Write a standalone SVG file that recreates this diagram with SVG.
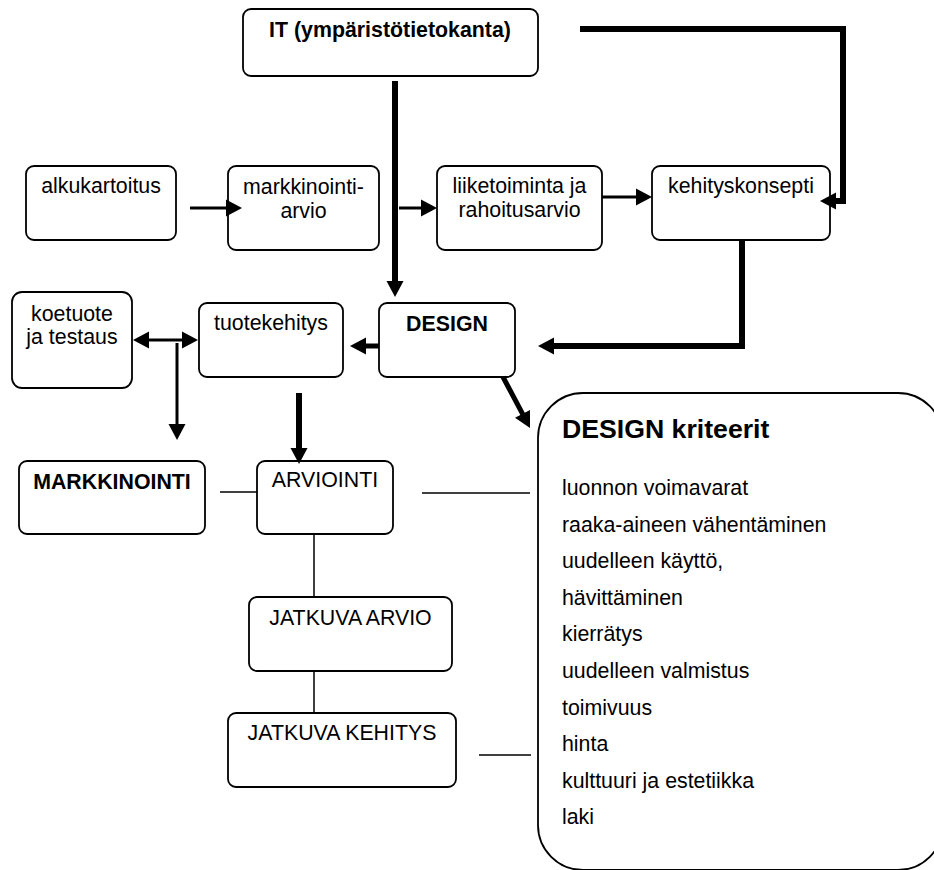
<svg xmlns="http://www.w3.org/2000/svg" width="934" height="870" viewBox="0 0 934 870">
<style>
.box{fill:#fff;stroke:#000;stroke-width:1.8}
.t{font-family:"Liberation Sans",Arial,sans-serif;font-size:21.33px;fill:#000;text-anchor:middle}
.b{font-weight:bold}
.l{text-anchor:start}
.thick{fill:none;stroke:#000;stroke-width:6;stroke-linejoin:miter}
.med{fill:none;stroke:#000;stroke-width:5}
.thin{fill:none;stroke:#000;stroke-width:3}
.line{fill:none;stroke:#000;stroke-width:1.5}
.head{fill:#000;stroke:none}
</style>
<defs>
<path id="ah" class="head" d="M0,0 L-16,-8.5 L-16,8.5 z"/>
</defs>
<rect width="934" height="870" fill="#fff"/>
<g id="it">
<rect class="box" x="243" y="9" width="295" height="67" rx="8"/>
<text class="t b" x="390" y="37">IT (ympäristötietokanta)</text>
</g>
<g id="alkukartoitus">
<rect class="box" x="26" y="166" width="150" height="74" rx="8"/>
<text class="t" x="101" y="193">alkukartoitus</text>
</g>
<g id="markkinointiarvio">
<rect class="box" x="228" y="166" width="151" height="84" rx="8"/>
<text class="t" x="303.5" y="194">markkinointi-</text>
<text class="t" x="303.5" y="218">arvio</text>
</g>
<g id="liiketoiminta">
<rect class="box" x="437" y="166" width="165" height="84" rx="8"/>
<text class="t" x="519.5" y="193">liiketoiminta ja</text>
<text class="t" x="519.5" y="217">rahoitusarvio</text>
</g>
<g id="kehityskonsepti">
<rect class="box" x="652" y="166" width="178" height="74" rx="8"/>
<text class="t" x="741" y="193">kehityskonsepti</text>
</g>
<g id="design">
<rect class="box" x="379" y="303" width="136" height="74" rx="8"/>
<text class="t b" x="447" y="331">DESIGN</text>
</g>
<g id="koetuote">
<rect class="box" x="12" y="292" width="120" height="96" rx="10"/>
<text class="t" x="72" y="321">koetuote</text>
<text class="t" x="72" y="344">ja testaus</text>
</g>
<g id="tuotekehitys">
<rect class="box" x="199" y="303" width="144" height="74" rx="8"/>
<text class="t" x="271" y="330">tuotekehitys</text>
</g>
<g id="markkinointi">
<rect class="box" x="19" y="461" width="186" height="73" rx="8"/>
<text class="t b" x="112" y="489">MARKKINOINTI</text>
</g>
<g id="arviointi">
<rect class="box" x="257" y="461" width="136" height="73" rx="8"/>
<text class="t" x="325" y="487">ARVIOINTI</text>
</g>
<g id="jatkuvaarvio">
<rect class="box" x="249" y="597" width="203" height="74" rx="8"/>
<text class="t" x="350.5" y="625">JATKUVA ARVIO</text>
</g>
<g id="jatkuvakehitys">
<rect class="box" x="228" y="713" width="228" height="74" rx="8"/>
<text class="t" x="342" y="740">JATKUVA KEHITYS</text>
</g>
<g id="kriteerit">
<rect class="box" x="538" y="393" width="405" height="477" rx="45"/>
<text class="t b l" x="562" y="438" style="font-size:26.67px">DESIGN kriteerit</text>
<text class="t l" x="562" y="495">luonnon voimavarat</text>
<text class="t l" x="562" y="531.6">raaka-aineen vähentäminen</text>
<text class="t l" x="562" y="568.2">uudelleen käyttö,</text>
<text class="t l" x="562" y="604.8">hävittäminen</text>
<text class="t l" x="562" y="641.4">kierrätys</text>
<text class="t l" x="562" y="678">uudelleen valmistus</text>
<text class="t l" x="562" y="714.6">toimivuus</text>
<text class="t l" x="562" y="751.2">hinta</text>
<text class="t l" x="562" y="787.8">kulttuuri ja estetiikka</text>
<text class="t l" x="562" y="824.4">laki</text>
</g>
<g id="connectors">
<path class="thick" d="M395,81 V283"/>
<use href="#ah" transform="translate(395,297) rotate(90)"/>
<path class="thick" d="M580,29 H843 V201 H834"/>
<use href="#ah" transform="translate(820,201) rotate(180)"/>
<path class="thin" d="M190,208 H228"/>
<use href="#ah" transform="translate(242,208)"/>
<path class="thin" d="M399,208 H423"/>
<use href="#ah" transform="translate(437,208)"/>
<path class="thin" d="M602,197 H638"/>
<use href="#ah" transform="translate(652,197)"/>
<path class="thick" d="M742,240 V346 H552"/>
<use href="#ah" transform="translate(538,346) rotate(180)"/>
<path class="med" d="M379,346 H364"/>
<use href="#ah" transform="translate(350,346) rotate(180)"/>
<path class="thin" d="M147,340 H184"/>
<use href="#ah" transform="translate(133,340) rotate(180)"/>
<use href="#ah" transform="translate(198,340)"/>
<path class="thin" d="M177,343 V426"/>
<use href="#ah" transform="translate(177,440) rotate(90)"/>
<path class="thick" d="M299,393 V450"/>
<use href="#ah" transform="translate(299,464) rotate(90)"/>
<path class="med" d="M503,377 L523.5,415.6"/>
<use href="#ah" transform="translate(530,428) rotate(62.1)"/>
<path class="line" d="M220,492 H257"/>
<path class="line" d="M422,493 H530"/>
<path class="line" d="M314,534 V597"/>
<path class="line" d="M314,671 V713"/>
<path class="line" d="M479,755 H531"/>
</g>
</svg>
